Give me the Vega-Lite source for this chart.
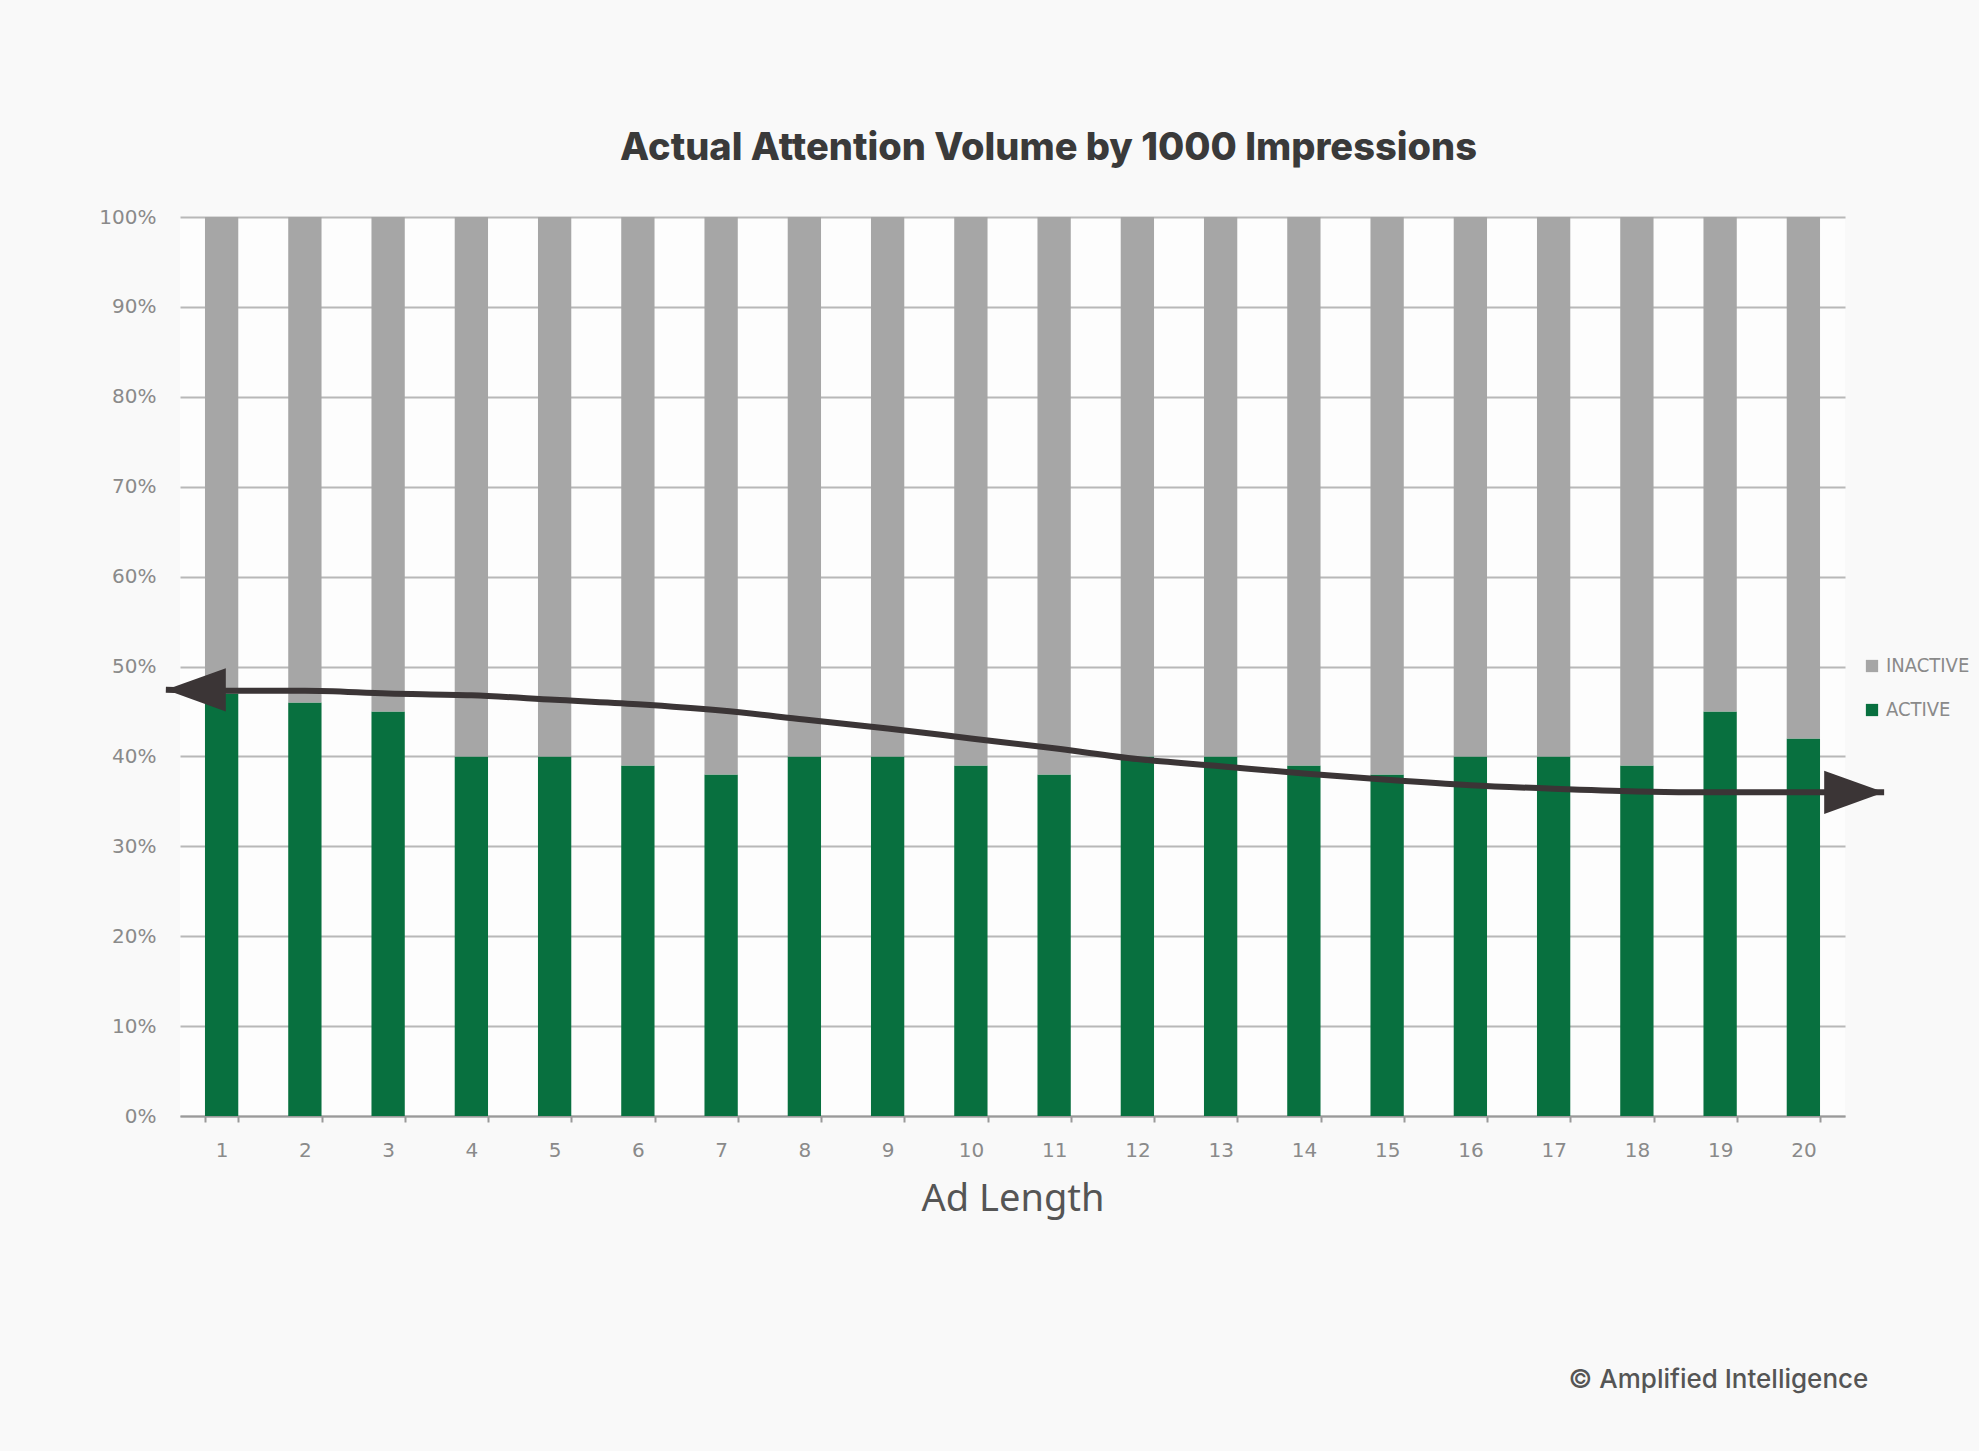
{
  "$schema": "https://vega.github.io/schema/vega-lite/v6.json",
  "autosize": {"type": "none"},
  "width": 1665,
  "height": 899,
  "padding": {"left": 180, "top": 217, "right": 134, "bottom": 335},
  "background": "#f9f9f9",
  "view": {"fill": "#fdfdfd", "stroke": null},
  "title": {
    "text": "Actual Attention Volume by 1000 Impressions",
    "font": "Inter",
    "fontSize": 38,
    "fontWeight": 800,
    "color": "#3a3a3a",
    "anchor": "middle",
    "dx": 36,
    "offset": 39
  },
  "datasets": {
    "bars": [
      {"len": 1, "status": "ACTIVE", "pct": 47}, {"len": 1, "status": "INACTIVE", "pct": 53},
      {"len": 2, "status": "ACTIVE", "pct": 46}, {"len": 2, "status": "INACTIVE", "pct": 54},
      {"len": 3, "status": "ACTIVE", "pct": 45}, {"len": 3, "status": "INACTIVE", "pct": 55},
      {"len": 4, "status": "ACTIVE", "pct": 40}, {"len": 4, "status": "INACTIVE", "pct": 60},
      {"len": 5, "status": "ACTIVE", "pct": 40}, {"len": 5, "status": "INACTIVE", "pct": 60},
      {"len": 6, "status": "ACTIVE", "pct": 39}, {"len": 6, "status": "INACTIVE", "pct": 61},
      {"len": 7, "status": "ACTIVE", "pct": 38}, {"len": 7, "status": "INACTIVE", "pct": 62},
      {"len": 8, "status": "ACTIVE", "pct": 40}, {"len": 8, "status": "INACTIVE", "pct": 60},
      {"len": 9, "status": "ACTIVE", "pct": 40}, {"len": 9, "status": "INACTIVE", "pct": 60},
      {"len": 10, "status": "ACTIVE", "pct": 39}, {"len": 10, "status": "INACTIVE", "pct": 61},
      {"len": 11, "status": "ACTIVE", "pct": 38}, {"len": 11, "status": "INACTIVE", "pct": 62},
      {"len": 12, "status": "ACTIVE", "pct": 40}, {"len": 12, "status": "INACTIVE", "pct": 60},
      {"len": 13, "status": "ACTIVE", "pct": 40}, {"len": 13, "status": "INACTIVE", "pct": 60},
      {"len": 14, "status": "ACTIVE", "pct": 39}, {"len": 14, "status": "INACTIVE", "pct": 61},
      {"len": 15, "status": "ACTIVE", "pct": 38}, {"len": 15, "status": "INACTIVE", "pct": 62},
      {"len": 16, "status": "ACTIVE", "pct": 40}, {"len": 16, "status": "INACTIVE", "pct": 60},
      {"len": 17, "status": "ACTIVE", "pct": 40}, {"len": 17, "status": "INACTIVE", "pct": 60},
      {"len": 18, "status": "ACTIVE", "pct": 39}, {"len": 18, "status": "INACTIVE", "pct": 61},
      {"len": 19, "status": "ACTIVE", "pct": 45}, {"len": 19, "status": "INACTIVE", "pct": 55},
      {"len": 20, "status": "ACTIVE", "pct": 42}, {"len": 20, "status": "INACTIVE", "pct": 58}
    ],
    "trend": [
      {"xq": 0.33, "trend": 47.4},
      {"xq": 1, "trend": 47.3},
      {"xq": 2, "trend": 47.3},
      {"xq": 3, "trend": 47.0},
      {"xq": 4, "trend": 46.8},
      {"xq": 5, "trend": 46.3},
      {"xq": 6, "trend": 45.8},
      {"xq": 7, "trend": 45.1},
      {"xq": 8, "trend": 44.1},
      {"xq": 9, "trend": 43.1},
      {"xq": 10, "trend": 42.0},
      {"xq": 11, "trend": 40.9},
      {"xq": 12, "trend": 39.7},
      {"xq": 13, "trend": 38.9},
      {"xq": 14, "trend": 38.1},
      {"xq": 15, "trend": 37.4},
      {"xq": 16, "trend": 36.8},
      {"xq": 17, "trend": 36.4},
      {"xq": 18, "trend": 36.1},
      {"xq": 19, "trend": 36.0},
      {"xq": 20, "trend": 36.0},
      {"xq": 20.97, "trend": 36.0}
    ],
    "credit": [{"credit": "© Amplified Intelligence"}]
  },
  "layer": [
    {
      "data": {"name": "bars"},
      "mark": {"type": "bar"},
      "encoding": {
        "x": {
          "field": "len",
          "type": "ordinal",
          "scale": {"paddingInner": 0.6, "paddingOuter": 0.3},
          "axis": {
            "title": "Ad Length",
            "titleFont": "Noto Sans",
            "titleFontSize": 38,
            "titleFontWeight": "normal",
            "titleColor": "#555555",
            "titlePadding": 20,
            "labelAngle": 0,
            "labelFont": "DejaVu Sans",
            "labelFontSize": 20,
            "labelColor": "#8a8a8a",
            "labelPadding": 18,
            "tickBand": "extent",
            "tickColor": "#999999",
            "tickSize": 6,
            "tickWidth": 2,
            "domainColor": "#9a9a9a",
            "domainWidth": 2,
            "grid": false
          }
        },
        "y": {
          "field": "pct",
          "type": "quantitative",
          "stack": "zero",
          "scale": {"domain": [0, 100], "nice": false},
          "axis": {
            "title": null,
            "values": [0, 10, 20, 30, 40, 50, 60, 70, 80, 90, 100],
            "labelExpr": "datum.value + '%'",
            "labelFont": "DejaVu Sans",
            "labelFontSize": 20,
            "labelColor": "#8a8a8a",
            "labelPadding": 24,
            "domain": false,
            "ticks": false,
            "grid": true,
            "gridColor": "#b8b8b8",
            "gridWidth": 2
          }
        },
        "color": {
          "field": "status",
          "type": "nominal",
          "scale": {"domain": ["INACTIVE", "ACTIVE"], "range": ["#a6a6a6", "#08703f"]},
          "legend": {
            "title": null,
            "orient": "none",
            "legendX": 1682,
            "legendY": 439,
            "symbolType": "square",
            "symbolSize": 150,
            "symbolStrokeWidth": 0,
            "labelFont": "DejaVu Sans Condensed, Roboto Condensed, Liberation Sans, sans-serif",
            "labelFontSize": 20,
            "labelColor": "#8a8a8a",
            "labelOffset": 4,
            "rowPadding": 24
          }
        },
        "order": {"field": "status", "sort": "ascending"}
      }
    },
    {
      "data": {"name": "trend"},
      "mark": {"type": "line", "interpolate": "monotone", "color": "#3b3536", "strokeWidth": 6, "clip": false},
      "encoding": {
        "x": {"field": "xq", "type": "quantitative", "scale": {"domain": [0.5, 20.5], "nice": false, "zero": false}, "axis": null},
        "y": {"field": "trend", "type": "quantitative", "scale": {"domain": [0, 100], "nice": false}}
      }
    },
    {
      "data": {"name": "credit"},
      "mark": {"type": "point", "shape": "M-1,0L1,-0.72L1,0.72Z", "filled": true, "opacity": 1, "color": "#3b3536", "size": 3600, "clip": false},
      "encoding": {
        "x": {"datum": 0.69, "type": "quantitative", "scale": {"domain": [0.5, 20.5], "nice": false, "zero": false}, "axis": null},
        "y": {"datum": 47.4, "type": "quantitative", "scale": {"domain": [0, 100], "nice": false}}
      }
    },
    {
      "data": {"name": "credit"},
      "mark": {"type": "point", "shape": "M1,0L-1,-0.72L-1,0.72Z", "filled": true, "opacity": 1, "color": "#3b3536", "size": 3600, "clip": false},
      "encoding": {
        "x": {"datum": 20.61, "type": "quantitative", "scale": {"domain": [0.5, 20.5], "nice": false, "zero": false}, "axis": null},
        "y": {"datum": 36.0, "type": "quantitative", "scale": {"domain": [0, 100], "nice": false}}
      }
    },
    {
      "data": {"name": "credit"},
      "mark": {"type": "text", "align": "right", "baseline": "middle", "font": "Inter", "fontSize": 26, "fontWeight": 500, "color": "#555555", "clip": false},
      "encoding": {
        "x": {"datum": 20.78, "type": "quantitative", "scale": {"domain": [0.5, 20.5], "nice": false, "zero": false}, "axis": null},
        "y": {"datum": -29.4, "type": "quantitative", "scale": {"domain": [0, 100], "nice": false}},
        "text": {"field": "credit"}
      }
    }
  ],
  "resolve": {"scale": {"x": "independent"}}
}
